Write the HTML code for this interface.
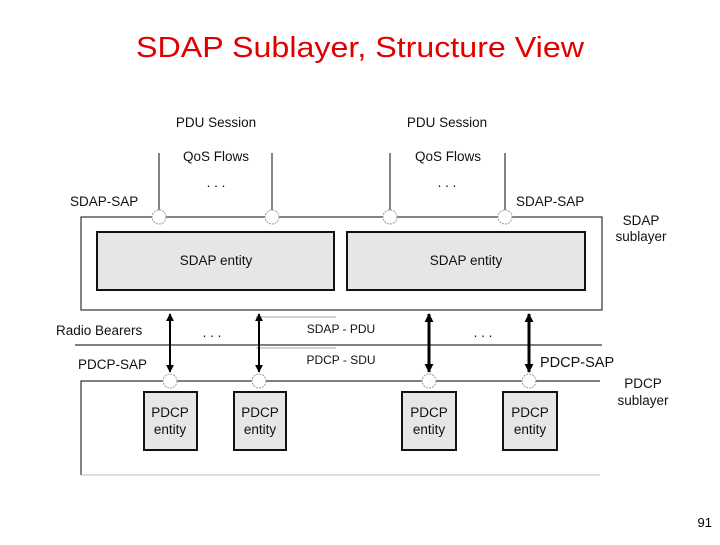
<!DOCTYPE html>
<html><head><style>
body{margin:0;background:#fff;}
</style></head><body>
<svg width="720" height="540" xmlns="http://www.w3.org/2000/svg" font-family="Liberation Sans, sans-serif">
<defs>
<marker id="a" viewBox="0 0 10 10" refX="9" refY="5" markerWidth="4" markerHeight="5" orient="auto-start-reverse"><path d="M0,0L10,5L0,10z" fill="#000"/></marker>
<marker id="b" viewBox="0 0 10 10" refX="9" refY="5" markerWidth="3" markerHeight="3" orient="auto-start-reverse"><path d="M0,0L10,5L0,10z" fill="#000"/></marker>
</defs>
<text x="136" y="57" font-size="29" fill="#e00000" textLength="448" lengthAdjust="spacingAndGlyphs">SDAP Sublayer, Structure View</text>
<g font-size="13.5" fill="#111">
<text x="216" y="127" text-anchor="middle">PDU Session</text>
<text x="447" y="127" text-anchor="middle">PDU Session</text>
<text x="216" y="161" text-anchor="middle">QoS Flows</text>
<text x="448" y="161" text-anchor="middle">QoS Flows</text>
<text x="216" y="187" text-anchor="middle">. . .</text>
<text x="447" y="187" text-anchor="middle">. . .</text>
<text x="70" y="206">SDAP-SAP</text>
<text x="516" y="206">SDAP-SAP</text>
<text x="641" y="225" text-anchor="middle">SDAP</text>
<text x="641" y="241" text-anchor="middle">sublayer</text>
<text x="56" y="335">Radio Bearers</text>
<text x="212" y="337" text-anchor="middle">. . .</text>
<text x="483" y="337" text-anchor="middle">. . .</text>
<text x="78" y="369">PDCP-SAP</text>
<text x="540" y="367" font-size="14.5">PDCP-SAP</text>
<text x="643" y="388" text-anchor="middle">PDCP</text>
<text x="643" y="405" text-anchor="middle">sublayer</text>
<text x="341" y="333" text-anchor="middle" font-size="12">SDAP - PDU</text>
<text x="341" y="364" text-anchor="middle" font-size="12">PDCP - SDU</text>
</g>
<g stroke="#333" stroke-width="1.2" fill="none">
<line x1="159" y1="153" x2="159" y2="210"/><line x1="272" y1="153" x2="272" y2="210"/>
<line x1="390" y1="153" x2="390" y2="210"/><line x1="505" y1="153" x2="505" y2="210"/>
<rect x="81" y="217" width="521" height="93"/>
<line x1="75" y1="345" x2="602" y2="345"/>
<path d="M600,381H81V475"/>
</g>
<line x1="81" y1="475" x2="600" y2="475" stroke="#bbb"/>
<line x1="256" y1="317" x2="336" y2="317" stroke="#aaa"/>
<line x1="256" y1="348" x2="336" y2="348" stroke="#aaa"/>
<g fill="#e6e6e6" stroke="#111" stroke-width="2">
<rect x="97" y="232" width="237" height="58"/><rect x="347" y="232" width="238" height="58"/>
<rect x="144" y="392" width="53" height="58"/><rect x="234" y="392" width="52" height="58"/>
<rect x="402" y="392" width="54" height="58"/><rect x="503" y="392" width="54" height="58"/>
</g>
<g font-size="13.5" fill="#111" text-anchor="middle">
<text x="216" y="265">SDAP entity</text><text x="466" y="265">SDAP entity</text>
<text x="170" y="417">PDCP</text><text x="170" y="434">entity</text>
<text x="260" y="417">PDCP</text><text x="260" y="434">entity</text>
<text x="429" y="417">PDCP</text><text x="429" y="434">entity</text>
<text x="530" y="417">PDCP</text><text x="530" y="434">entity</text>
</g>
<g fill="#fff" stroke="#999" stroke-dasharray="2,1">
<circle cx="159" cy="217" r="7"/><circle cx="272" cy="217" r="7"/><circle cx="390" cy="217" r="7"/><circle cx="505" cy="217" r="7"/>
<circle cx="170" cy="381" r="7"/><circle cx="259" cy="381" r="7"/><circle cx="429" cy="381" r="7"/><circle cx="529" cy="381" r="7"/>
</g>
<g stroke="#000">
<line x1="170" y1="314" x2="170" y2="372" stroke-width="2" marker-start="url(#a)" marker-end="url(#a)"/>
<line x1="259" y1="314" x2="259" y2="372" stroke-width="2" marker-start="url(#a)" marker-end="url(#a)"/>
<line x1="429" y1="314" x2="429" y2="372" stroke-width="3" marker-start="url(#b)" marker-end="url(#b)"/>
<line x1="529" y1="314" x2="529" y2="372" stroke-width="3" marker-start="url(#b)" marker-end="url(#b)"/>
</g>
<text x="712" y="527" text-anchor="end" font-size="13">91</text>
</svg>
</body></html>
